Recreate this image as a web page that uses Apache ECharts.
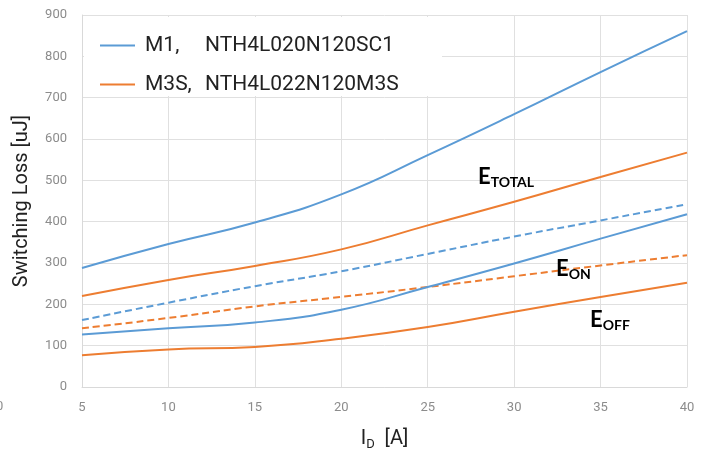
<!DOCTYPE html>
<html>
<head>
<meta charset="utf-8">
<script src="https://cdn.jsdelivr.net/npm/echarts@6.0.0/dist/echarts.min.js"></script>
<style>
  html, body { margin: 0; padding: 0; background: #fff; }
  #chart { width: 705px; height: 451px; }
</style>
</head>
<body>
<div id="chart"></div>
<script>
// 数据
var currents = [5, 10, 15, 20, 25, 30, 35, 40];
var m1Total = [288, 346, 398, 466, 561, 660, 762, 861];
var m1On = [162, 204, 244, 280, 322, 364, 403, 442];
var m1Off = [127, 142, 156, 187, 242, 299, 359, 418];
var m3sTotal = [220, 259, 293, 333, 391, 448, 508, 567];
var m3sOn = [142, 167, 195, 218, 242, 268, 294, 319];
var m3sOff = [77, 91, 97, 117, 145, 182, 218, 252];
var m1Name = 'M1,    NTH4L020N120SC1';
var m3sName = 'M3S,  NTH4L022N120M3S';
var legendNames = [m1Name, m3sName];

var blue = '#5B9BD5';
var orange = '#ED7D31';

var toPairs = function (ys) {
  var res = [];
  for (var i = 0; i < currents.length; i++) {
    res.push([currents[i], ys[i]]);
  }
  return res;
};

var makeLine = function (name, ys, color, dashed) {
  return {
    name: name,
    type: 'line',
    data: toPairs(ys),
    smooth: 0.5,
    symbol: 'none',
    showSymbol: false,
    lineStyle: { color: color, width: 2, type: dashed ? [7, 4] : 'solid' },
    itemStyle: { color: color },
    emphasis: { disabled: true }
  };
};

var myChart = echarts.init(document.getElementById('chart'));

var labelRich = {
  e: { fontFamily: 'Lato', fontWeight: 'bold', fontSize: 22, color: '#111', lineHeight: 24 },
  s: { fontFamily: 'Lato', fontWeight: 'bold', fontSize: 14, color: '#111', lineHeight: 14, verticalAlign: 'bottom' }
};

var option = {
  animation: false,
  backgroundColor: '#fff',
  grid: { left: 82, right: 18, top: 15, bottom: 64, containLabel: false, outerBoundsMode: 'none' },
  legend: {
    data: legendNames,
    orient: 'vertical',
    left: 95,
    top: 30,
    itemWidth: 35,
    itemHeight: 14,
    itemGap: 18,
    icon: 'path://M0,6 L35,6 L35,8 L0,8 Z',
    selectedMode: false,
    textStyle: {
      rich: {
        a: { fontFamily: 'Roboto', fontSize: 21, color: '#222', width: 60, padding: [0, 0, 0, 5], lineHeight: 20 },
        b: { fontFamily: 'Roboto', fontSize: 21, color: '#222', lineHeight: 20 }
      }
    },
    formatter: function (name) {
      var parts = name.split(/,\s+/);
      return '{a|' + parts[0] + ',}{b|' + parts[1] + '}';
    }
  },
  xAxis: {
    type: 'value',
    min: 5,
    max: 40,
    interval: 5,
    name: '{a|I}{sub|D}{a|  [A]}',
    nameLocation: 'middle',
    nameGap: 40,
    nameTextStyle: {
      rich: {
        a: { fontFamily: 'Roboto', fontSize: 20, color: '#222', lineHeight: 24 },
        sub: { fontFamily: 'Roboto', fontSize: 13, color: '#222', lineHeight: 13, verticalAlign: 'bottom' }
      }
    },
    axisLine: { show: true, lineStyle: { color: '#d9d9d9', width: 1 } },
    axisTick: { show: false },
    axisLabel: { color: '#8c8c8c', fontFamily: 'Roboto', fontSize: 13, margin: 14 },
    splitLine: { show: true, lineStyle: { color: '#e0e0e0', width: 1 } }
  },
  yAxis: {
    type: 'value',
    min: 0,
    max: 900,
    interval: 100,
    name: 'Switching Loss [uJ]',
    nameLocation: 'middle',
    nameGap: 50,
    nameTextStyle: { fontFamily: 'Roboto', fontSize: 20, color: '#222' },
    axisLine: { show: true, lineStyle: { color: '#d9d9d9', width: 1 } },
    axisTick: { show: false },
    axisLabel: { color: '#8c8c8c', fontFamily: 'Roboto', fontSize: 13, margin: 15 },
    splitLine: { show: true, lineStyle: { color: '#e0e0e0', width: 1 } }
  },
  graphic: [
    { // 图例白底
      type: 'rect', z: 1,
      shape: { x: 84, y: 17, width: 358, height: 79 },
      style: { fill: '#fff' }
    },
    {
      type: 'text', z: 10, x: 478, y: 165,
      style: { text: '{e|E}{s|TOTAL}', rich: labelRich, verticalAlign: 'top' }
    },
    {
      type: 'text', z: 10, x: 556, y: 257,
      style: { text: '{e|E}{s|ON}', rich: labelRich, verticalAlign: 'top' }
    },
    {
      type: 'text', z: 10, x: 590, y: 308,
      style: { text: '{e|E}{s|OFF}', rich: labelRich, verticalAlign: 'top' }
    },
    {
      type: 'text', z: 10, x: -4, y: 400,
      style: { text: '0', fill: '#8c8c8c', font: '13px Roboto' }
    }
  ],
  series: [
    makeLine(m1Name, m1Total, blue, false),
    makeLine(m3sName, m3sTotal, orange, false),
    makeLine(m1Name, m1On, blue, true),
    makeLine(m3sName, m3sOn, orange, true),
    makeLine(m1Name, m1Off, blue, false),
    makeLine(m3sName, m3sOff, orange, false)
  ]
};

myChart.setOption(option);
</script>
</body>
</html>
